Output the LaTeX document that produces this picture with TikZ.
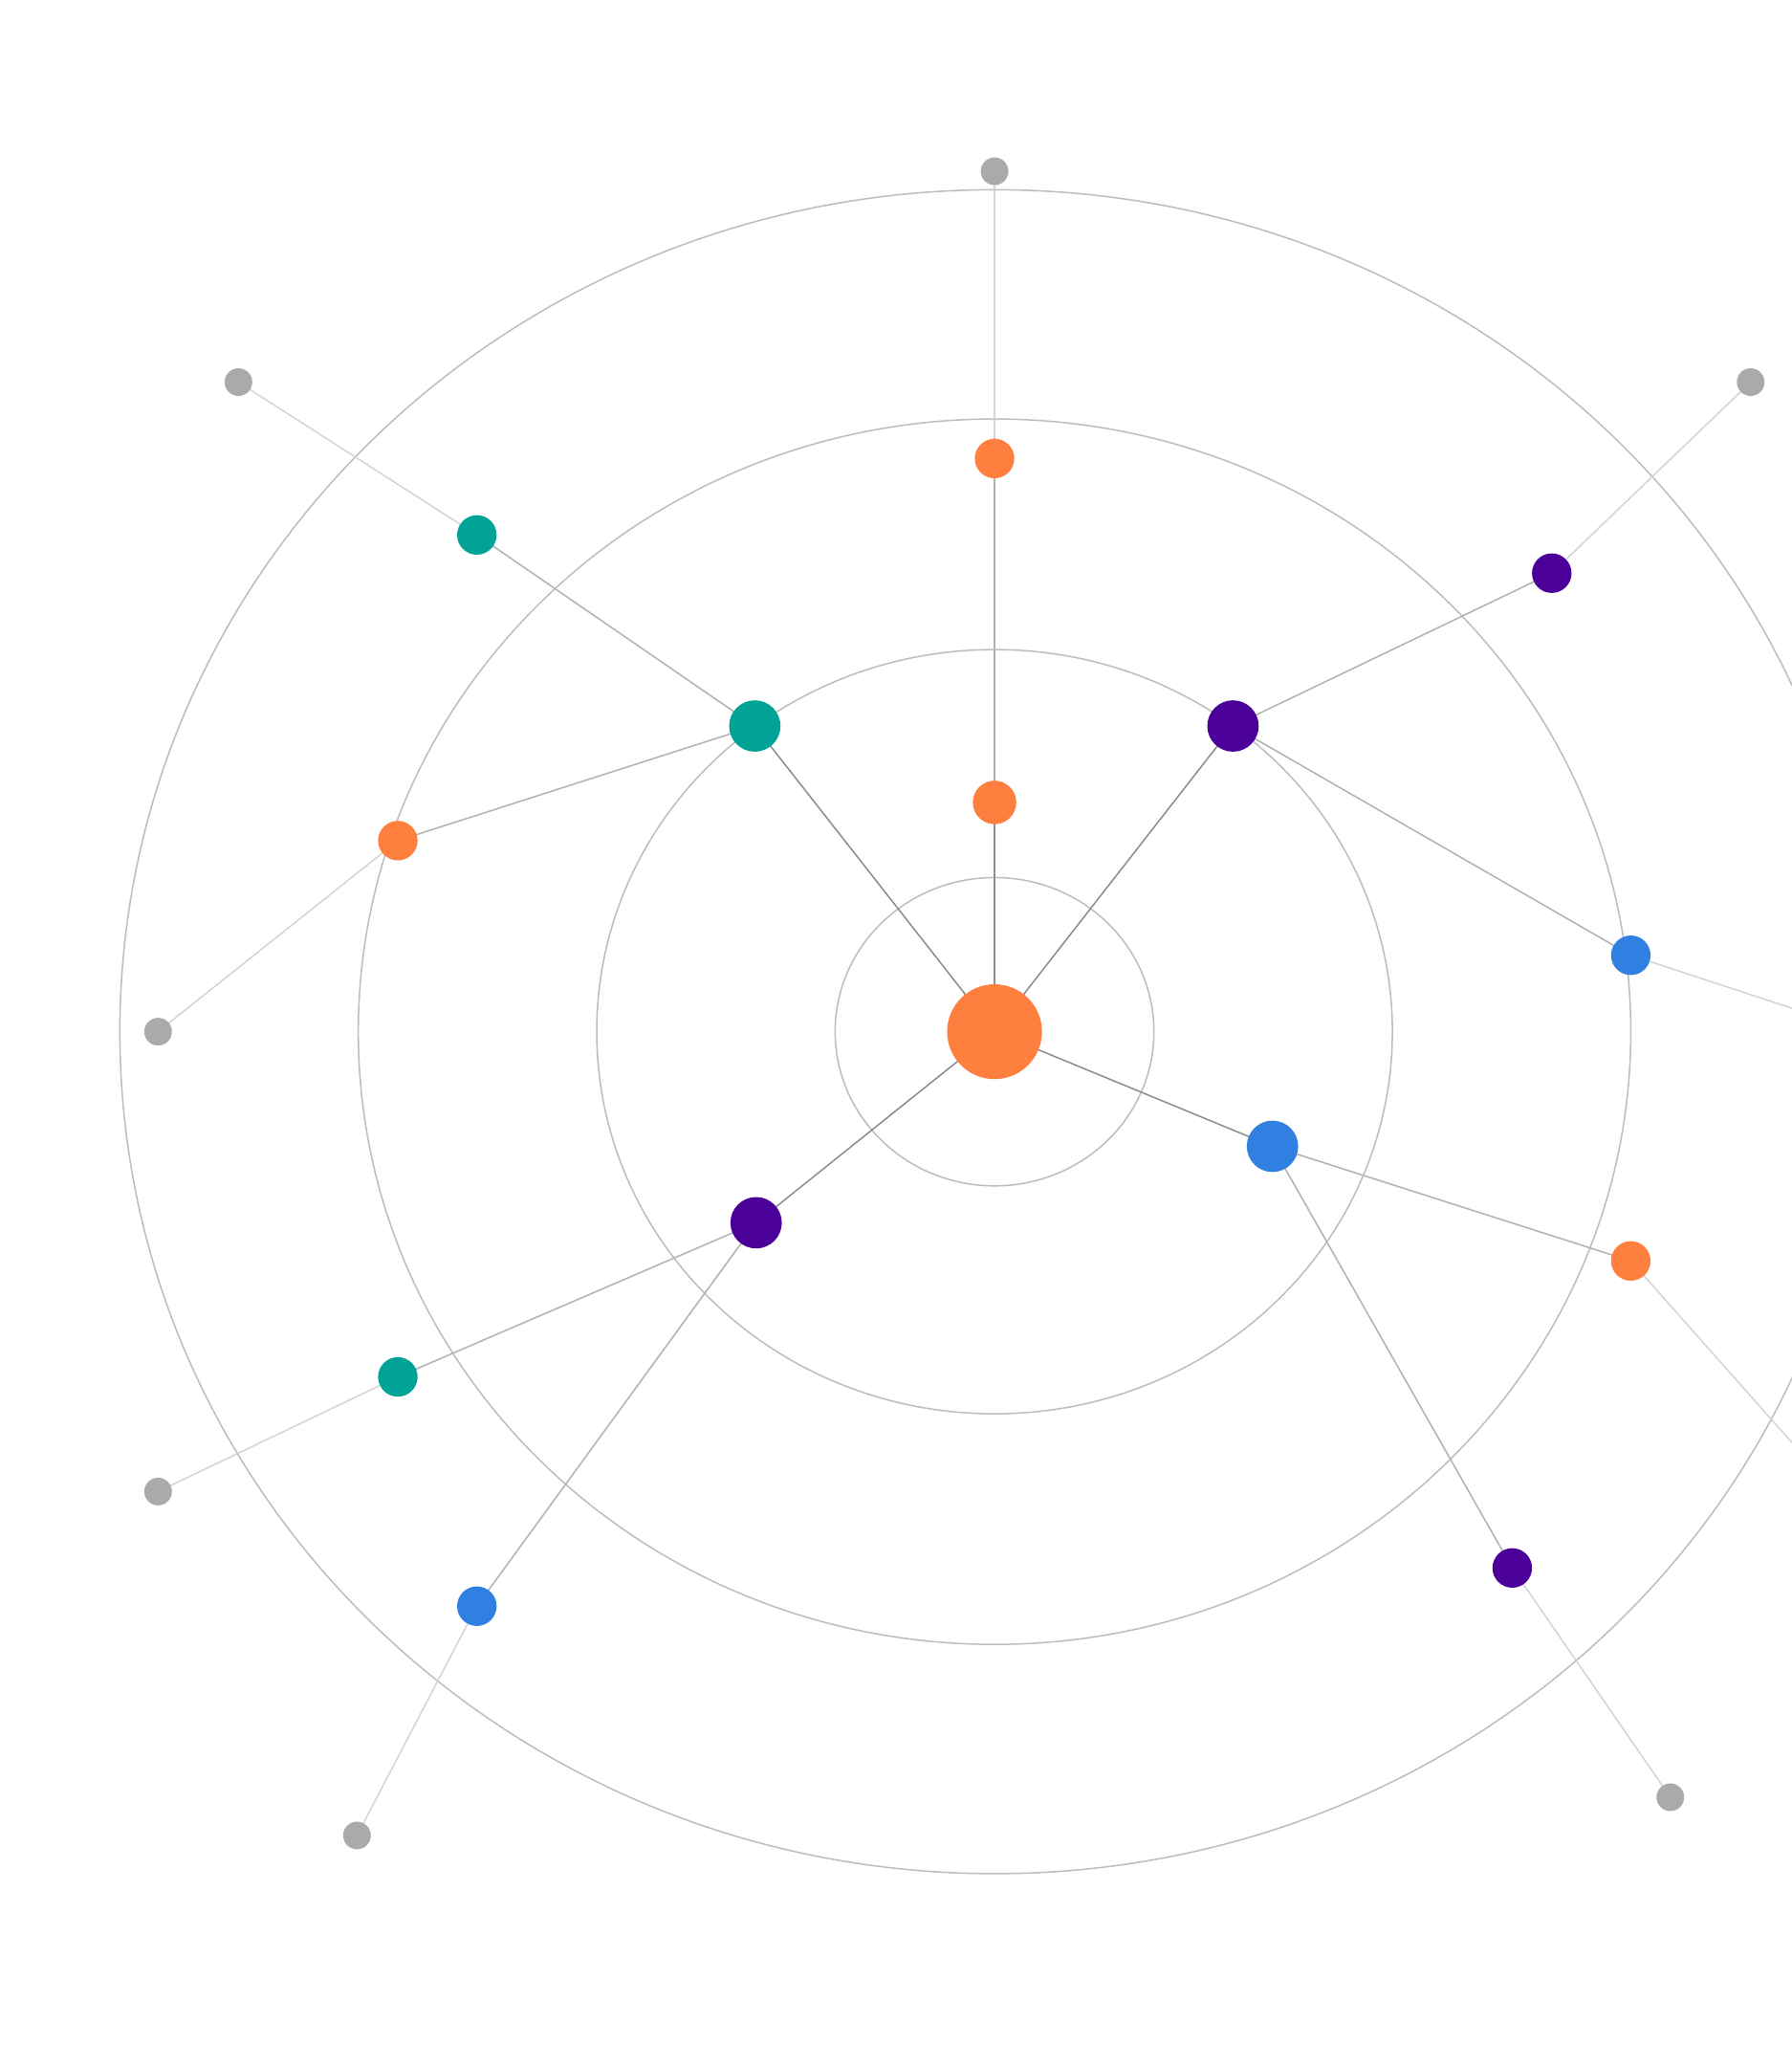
\documentclass[tikz,border=0pt]{standalone}
\definecolor{cor}{HTML}{FF7F3F}
\definecolor{cte}{HTML}{00A396}
\definecolor{cpu}{HTML}{4B0099}
\definecolor{cbl}{HTML}{2F80E0}
\definecolor{cgr}{HTML}{AAAAAA}
\definecolor{cring}{HTML}{BDBDBD}
\begin{document}
\begin{tikzpicture}[x=1pt,y=-1pt,
 ring/.style={draw=cring,line width=1.1pt},
 e1/.style={draw=black!45,line width=1.1pt},
 e2/.style={draw=black!30,line width=1.1pt},
 e3/.style={draw=black!17,line width=1.1pt},
 dot/.style={circle,inner sep=0pt,draw=none}]
\useasboundingbox (0,0) rectangle (1360,1568);
\fill[white] (0,0) rectangle (1360,1568);
\foreach \a/\b in {121/117,302/290,483/465,664/639}
  \draw[ring] (755,783) ellipse [x radius=\a, y radius=\b];
% coordinates
\coordinate (c) at (755,783);
\coordinate (i1) at (755,609);\coordinate (i2) at (573,551);\coordinate (i3) at (936,551);
\coordinate (i4) at (574,928);\coordinate (i5) at (966,870);
\coordinate (m1) at (755,348);\coordinate (m2) at (362,406);\coordinate (m3) at (302,638);
\coordinate (m4) at (1178,435);\coordinate (m5) at (1238,725);\coordinate (m6) at (302,1045);
\coordinate (m7) at (362,1219);\coordinate (m8) at (1238,957);\coordinate (m9) at (1148,1190);
\coordinate (g1) at (755,130);\coordinate (g2) at (181,290);\coordinate (g3) at (120,783);
\coordinate (g4) at (1329,290);\coordinate (g5) at (1372,769);\coordinate (g6) at (120,1132);
\coordinate (g7) at (271,1393);\coordinate (g8) at (1372,1108);\coordinate (g9) at (1268,1364);
\foreach \t in {i1,i2,i3,i4,i5} \draw[e1] (c)--(\t);
\draw[e2] (i1)--(m1);\draw[e2] (i2)--(m2);\draw[e2] (i2)--(m3);\draw[e2] (i3)--(m4);
\draw[e2] (i3)--(m5);\draw[e2] (i4)--(m6);\draw[e2] (i4)--(m7);\draw[e2] (i5)--(m8);\draw[e2] (i5)--(m9);
\foreach \a/\b in {m1/g1,m2/g2,m3/g3,m4/g4,m5/g5,m6/g6,m7/g7,m8/g8,m9/g9} \draw[e3] (\a)--(\b);
% nodes
\node[dot,fill=cor,minimum size=72] (C) at (c) {};
\node[dot,fill=cor,minimum size=33] (I1) at (i1) {};
\node[dot,fill=cte,minimum size=39] (I2) at (i2) {};
\node[dot,fill=cpu,minimum size=39] (I3) at (i3) {};
\node[dot,fill=cpu,minimum size=39] (I4) at (i4) {};
\node[dot,fill=cbl,minimum size=39] (I5) at (i5) {};
\node[dot,fill=cor,minimum size=30] (M1) at (m1) {};
\node[dot,fill=cte,minimum size=30] (M2) at (m2) {};
\node[dot,fill=cor,minimum size=30] (M3) at (m3) {};
\node[dot,fill=cpu,minimum size=30] (M4) at (m4) {};
\node[dot,fill=cbl,minimum size=30] (M5) at (m5) {};
\node[dot,fill=cte,minimum size=30] (M6) at (m6) {};
\node[dot,fill=cbl,minimum size=30] (M7) at (m7) {};
\node[dot,fill=cor,minimum size=30] (M8) at (m8) {};
\node[dot,fill=cpu,minimum size=30] (M9) at (m9) {};
\foreach \g in {g1,g2,g3,g4,g6,g7,g9} \node[dot,fill=cgr,minimum size=21] at (\g) {};
\end{tikzpicture}
\end{document}
